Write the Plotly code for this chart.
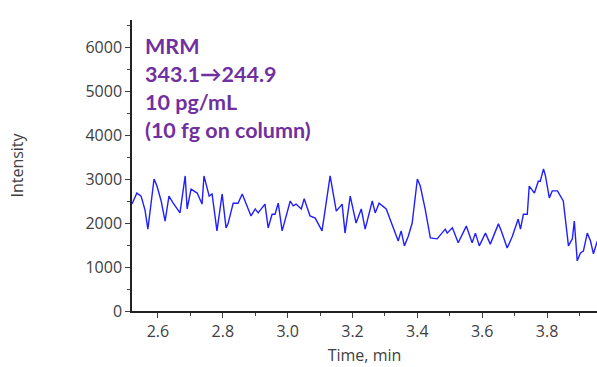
import plotly.graph_objects as go

time_min = [2.520, 2.535, 2.548, 2.560, 2.569, 2.580, 2.588, 2.597, 2.610, 2.622, 2.634, 2.647,
            2.668, 2.684, 2.690, 2.702, 2.721, 2.736, 2.742, 2.758, 2.767, 2.782, 2.798, 2.810,
            2.816, 2.832, 2.847, 2.860, 2.887, 2.900, 2.909, 2.930, 2.940, 2.952, 2.961, 2.971,
            2.983, 3.008, 3.017, 3.026, 3.042, 3.051, 3.069, 3.085, 3.106, 3.131, 3.150, 3.168,
            3.177, 3.193, 3.211, 3.227, 3.239, 3.261, 3.270, 3.282, 3.304, 3.341, 3.350, 3.360,
            3.372, 3.384, 3.400, 3.409, 3.424, 3.440, 3.461, 3.486, 3.492, 3.508, 3.526, 3.551,
            3.569, 3.579, 3.591, 3.610, 3.625, 3.650, 3.659, 3.677, 3.693, 3.711, 3.718, 3.727,
            3.739, 3.745, 3.761, 3.773, 3.779, 3.789, 3.795, 3.807, 3.816, 3.832, 3.850, 3.866,
            3.878, 3.884, 3.893, 3.903, 3.912, 3.924, 3.934, 3.943, 3.955]
intensity = [2430, 2680, 2610, 2300, 1860, 2600, 3000, 2840, 2500, 2045, 2610, 2450,
             2230, 3070, 2320, 2770, 2680, 2430, 3070, 2610, 2660, 1820, 2660, 1890,
             1980, 2450, 2450, 2660, 2160, 2320, 2230, 2430, 1890, 2200, 2200, 2450,
             1820, 2500, 2390, 2430, 2320, 2550, 2160, 2110, 1820, 3070, 2270, 2430,
             1770, 2610, 2000, 2320, 1860, 2500, 2230, 2450, 2320, 1590, 1820, 1480,
             1700, 2000, 3000, 2840, 2320, 1660, 1640, 1860, 1770, 1890, 1550, 1930,
             1550, 1770, 1480, 1770, 1520, 1980, 1820, 1430, 1700, 2090, 1860, 2200,
             2200, 2840, 2680, 2950, 2950, 3230, 3070, 2570, 2730, 2730, 2500, 1480,
             1640, 2045, 1140, 1320, 1360, 1770, 1590, 1300, 1590]

label_lines = ["MRM", "343.1\u2192244.9", "10 pg/mL", "(10 fg on column)"]
x_ticks = [2.6, 2.8, 3.0, 3.2, 3.4, 3.6, 3.8]
y_ticks = [0, 1000, 2000, 3000, 4000, 5000, 6000]

fig = go.Figure()
fig.add_trace(go.Scatter(x=time_min, y=intensity, mode="lines",
                         line=dict(color="#1f1fff", width=1.4), showlegend=False))

fig.add_annotation(text="<br>".join(f"<b>{s}</b>" for s in label_lines),
                   xref="paper", yref="paper", x=0.024, y=0.962,
                   xanchor="left", yanchor="top", align="left", showarrow=False,
                   font=dict(family="Lato", size=21.5, color="#7030a0"))

axis_font = dict(family="Open Sans", size=16, color="#404040")
fig.update_layout(
    width=597, height=367,
    margin=dict(l=132, r=0, t=20, b=56),
    paper_bgcolor="white", plot_bgcolor="white",
    xaxis=dict(range=[2.52, 3.954], tickvals=x_ticks, ticktext=[f"{v:.1f}" for v in x_ticks],
               ticks="outside", ticklen=5, tickcolor="#404040",
               minor=dict(dtick=0.1, tick0=2.5, ticks="outside", ticklen=3, tickcolor="#404040"),
               showline=True, linecolor="#222222", linewidth=1.5, showgrid=False, zeroline=False,
               tickfont=axis_font,
               title=dict(text="Time, min", font=axis_font, standoff=9)),
    yaxis=dict(range=[0, 6614], tickvals=y_ticks, ticks="outside", ticklen=5, tickcolor="#404040",
               minor=dict(dtick=500, ticks="outside", ticklen=3, tickcolor="#404040"),
               showline=True, linecolor="#222222", linewidth=1.5, showgrid=False, zeroline=False,
               tickfont=axis_font,
               title=dict(text="Intensity", font=axis_font, standoff=58)),
)

fig.write_html("out.html")
